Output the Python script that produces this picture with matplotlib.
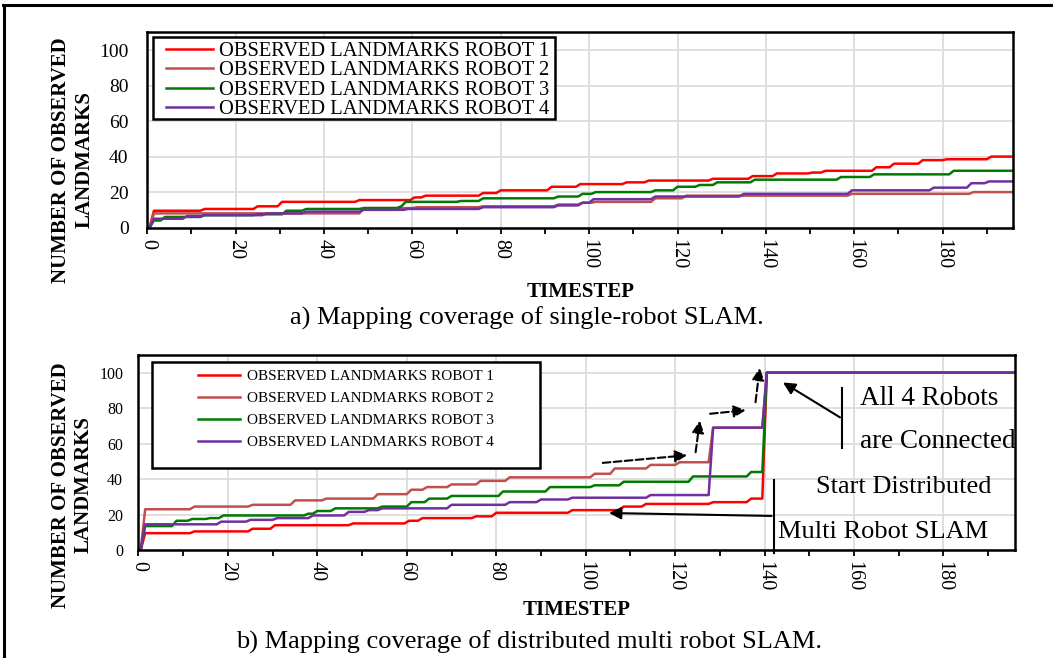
import matplotlib
matplotlib.use("Agg")
import matplotlib.pyplot as plt
from matplotlib.lines import Line2D
from matplotlib.patches import Rectangle
from matplotlib.ticker import MultipleLocator

plt.rcParams['font.family'] = ['Liberation Serif', 'DejaVu Serif']

LABELS = ["OBSERVED LANDMARKS ROBOT 1", "OBSERVED LANDMARKS ROBOT 2",
          "OBSERVED LANDMARKS ROBOT 3", "OBSERVED LANDMARKS ROBOT 4"]
COLORS = ["#ff0000", "#c0504d", "#007a00", "#7030a0"]
T_END = 196

# single-robot SLAM: step times and landmark counts for each robot
single_r1_t = [0, 0.5, 12, 24, 29.5, 47, 59.5, 62, 75, 79, 90.5, 97, 107.5, 112.5, 127, 136,
               141.5, 149.5, 152.5, 164, 168, 174.5, 180, 190]
single_r1_v = [0, 9.5, 10.5, 12, 14.5, 15.5, 17, 18, 19.5, 21, 23, 24.5, 25.5, 26.5, 27.5, 29,
               30.5, 31, 32, 34, 36, 38, 38.5, 40]
single_r2_t = [0, 0.5, 48, 60, 75, 92, 97.5, 100.5, 114, 121, 158.5, 186]
single_r2_v = [0, 8, 11, 11.5, 12, 13, 14, 14.5, 16.5, 18, 19, 20]
single_r3_t = [0, 0.5, 3, 12, 24, 30.5, 35, 48, 56.5, 57.5, 70, 75, 92, 97.5, 100.5, 114, 119,
               124, 128, 136.5, 156, 163.5, 181.5]
single_r3_v = [0, 4, 6, 7, 7.5, 9.5, 10.5, 11, 12, 14.5, 15, 16.5, 17.5, 19, 20, 21, 23,
               24, 25.5, 27, 28.5, 30, 32]
single_r4_t = [0, 0.5, 8, 12, 26, 35, 48, 58, 75, 92, 97.5, 100, 114, 134, 158.5, 177, 185.5, 189.5]
single_r4_v = [0, 5, 6.5, 7, 8, 9, 10, 10.5, 11.5, 12.5, 14, 16, 17.5, 19, 21, 22.5, 25, 26]

# distributed multi-robot SLAM
multi_r1_t = [0, 0.5, 11.5, 24.5, 29.5, 47, 59.5, 62.5, 74.5, 79, 96, 107.5, 112.5, 127.5, 136, 139.5]
multi_r1_v = [0, 9.5, 10.5, 12, 14, 15, 16.5, 18, 19, 21, 22.5, 24.5, 26, 27, 29, 100]
multi_r2_t = [0, 0.5, 11.5, 24.5, 34, 41, 52.5, 60, 63.5, 69, 75.5, 82, 101, 105.5, 113.5, 120,
              127.5, 139.5]
multi_r2_v = [0, 23, 24.5, 25.5, 28, 29, 31.5, 34, 35.5, 37, 39, 41, 43, 46, 48, 49.5, 69, 100]
multi_r3_t = [0, 0.5, 7.5, 11, 15, 18, 37, 39, 43, 53.5, 60, 64, 69, 80.5, 91, 101, 107.5, 123,
              136, 139.5]
multi_r3_v = [0, 13.5, 16.5, 17.5, 18, 19.5, 20.5, 22, 23.5, 24.5, 27, 29, 30.5, 33, 35.5, 36.5,
              38.5, 41.5, 44, 100]
multi_r4_t = [0, 0.5, 17.5, 24, 30, 38, 46, 50.5, 53.5, 69, 82, 89, 96, 113.5, 127.5, 139.5]
multi_r4_v = [0, 14.5, 16, 17, 18, 19.5, 21.5, 22.5, 23.5, 25.5, 27, 28.5, 29.5, 31, 69, 100]


def staircase(times, levels, rise=1.0):
    # each count change ramps over one timestep
    xs, ys = [times[0]], [levels[0]]
    for i in range(1, len(times)):
        xs += [times[i], times[i] + rise]
        ys += [levels[i - 1], levels[i]]
    xs.append(T_END)
    ys.append(levels[-1])
    return xs, ys


def style(ax, ysize, ypad, xsize):
    ax.set_xlim(0, T_END)
    ax.set_ylim(0, 110)
    ax.xaxis.set_major_locator(MultipleLocator(20))
    ax.xaxis.set_minor_locator(MultipleLocator(10))
    ax.set_yticks(range(0, 101, 20))
    ax.grid(True, which='major', color='#dcdcdc', lw=1.3)
    ax.set_axisbelow(True)
    for s in ax.spines.values():
        s.set_linewidth(1.8)
        s.set_color('black')
    ax.tick_params(axis='x', which='both', direction='out', length=4, width=1.3,
                   labelrotation=-90, labelsize=xsize, pad=4)
    ax.tick_params(axis='y', length=0, labelsize=ysize, pad=ypad)


def legend_box(ax, lines, rect, size, hl, tp, ls, dx, dy):
    x0, y0, x1, y1 = rect
    ax.add_patch(Rectangle((x0, y0), x1 - x0, y1 - y0, transform=ax.transAxes,
                           facecolor='white', edgecolor='black', lw=1.8, zorder=4))
    ax.legend(lines, LABELS, loc='center',
              bbox_to_anchor=((x0 + x1) / 2 + dx, (y0 + y1) / 2 + dy),
              frameon=False, fontsize=size, handlelength=hl, handletextpad=tp,
              labelspacing=ls, borderpad=0)


fig = plt.figure(figsize=(10.53, 6.58), dpi=100)
ax1 = fig.add_axes([0.1399, 0.6541, 0.8224, 0.2968])
ax2 = fig.add_axes([0.1315, 0.1641, 0.8324, 0.2964])

single = [(single_r1_t, single_r1_v), (single_r2_t, single_r2_v),
          (single_r3_t, single_r3_v), (single_r4_t, single_r4_v)]
multi = [(multi_r1_t, multi_r1_v), (multi_r2_t, multi_r2_v),
         (multi_r3_t, multi_r3_v), (multi_r4_t, multi_r4_v)]

lines1, lines2 = [], []
for (t, v), c in zip(single, COLORS):
    xs, ys = staircase(t, v)
    lines1 += ax1.plot(xs, ys, color=c, lw=1.8)
for (t, v), c in zip(multi, COLORS):
    xs, ys = staircase(t, v)
    lines2 += ax2.plot(xs, ys, color=c, lw=1.8)

style(ax1, 14, 13.5, 14.5)
style(ax2, 11.5, 11, 14.5)
legend_box(ax1, lines1, (0.0066, 0.556, 0.4708, 0.976), 14.8, 2.3, 0.25, 0.0, 0.004, -0.012)
legend_box(ax2, lines2, (0.0154, 0.4205, 0.458, 0.964), 11, 2.75, 0.45, 0.55, 0.0, 0.03)

# annotations on the distributed run
arrow = dict(arrowstyle='-|>', color='black', lw=1.5, mutation_scale=18)
dashed = dict(arrowstyle='-|>', color='black', lw=1.5, ls='--', mutation_scale=18)
for (x0, y0), (x1, y1) in [((103.2, 49), (123.3, 53.6)), ((124.5, 53.6), (125.6, 74.5)),
                           ((127.2, 76.7), (136.4, 79)), ((137.9, 81.8), (139, 104.3))]:
    ax2.annotate('', xy=(x1, y1), xytext=(x0, y0), arrowprops=dashed, annotation_clip=False)
ax2.plot([157.4, 157.4], [57.5, 91.4], color='black', lw=1.5, clip_on=False)
ax2.annotate('', xy=(143.6, 95.3), xytext=(157.4, 74), arrowprops=arrow)
ax2.plot([142.2, 142.2], [-1.7, 39.5], color='black', lw=1.5, clip_on=False)
ax2.annotate('', xy=(104.6, 20.9), xytext=(142.2, 19.2), arrowprops=arrow)
ax2.text(161.4, 85.7, 'All 4 Robots', fontsize=19.5, va='center')
ax2.text(161.4, 61, 'are Connected', fontsize=19.5, va='center')
ax2.text(151.6, 35.5, 'Start Distributed', fontsize=19, va='center')
ax2.text(143, 10.2, 'Multi Robot SLAM', fontsize=19, va='center')

ylab = "NUMBER OF OBSERVED\nLANDMARKS"
fig.text(0.0693, 0.757, ylab, rotation=90, ha='center', va='center', fontsize=15,
         fontweight='bold', multialignment='center')
fig.text(0.0684, 0.263, ylab, rotation=90, ha='center', va='center', fontsize=15,
         fontweight='bold', multialignment='center')
fig.text(0.551, 0.556, 'TIMESTEP', ha='center', va='center', fontsize=15, fontweight='bold')
fig.text(0.548, 0.073, 'TIMESTEP', ha='center', va='center', fontsize=15, fontweight='bold')
fig.text(0.5005, 0.5167, 'a) Mapping coverage of single-robot SLAM.', ha='center', va='center',
         fontsize=19)
fig.text(0.5024, 0.0243, 'b) Mapping coverage of distributed multi robot SLAM.', ha='center',
         va='center', fontsize=19)

# page frame
fig.add_artist(Line2D([4 / 1053, 4 / 1053], [0, 1 - 5 / 658], color='black', lw=2.2))
fig.add_artist(Line2D([3 / 1053, 1], [1 - 5 / 658, 1 - 5 / 658], color='black', lw=2.2))

fig.savefig('out.png', dpi=100)
